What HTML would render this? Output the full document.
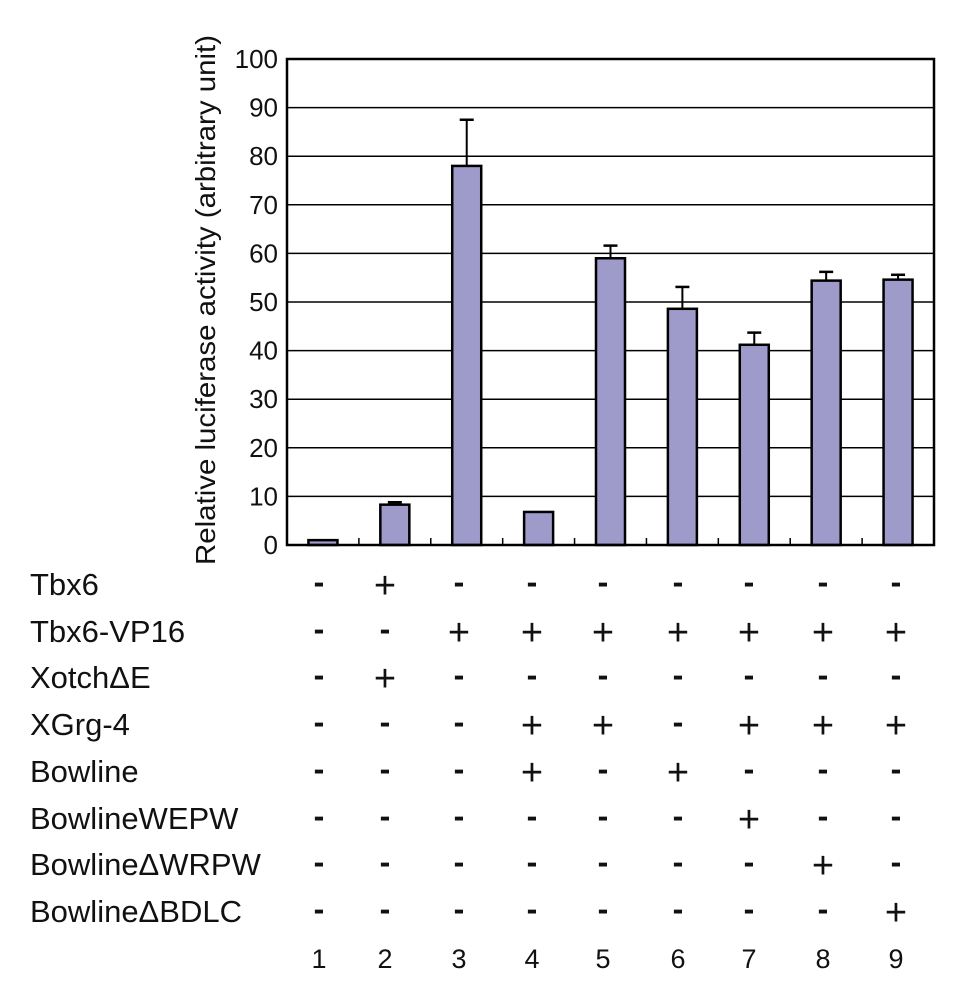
<!DOCTYPE html>
<html><head><meta charset="utf-8"><style>
html,body{margin:0;padding:0;background:#fff;}
svg{display:block;font-family:"Liberation Sans",Arial,sans-serif;}
</style></head><body>
<svg id="chart" width="958" height="1000" viewBox="0 0 958 1000" xmlns="http://www.w3.org/2000/svg"></svg>
<script>
const categories = ["1","2","3","4","5","6","7","8","9"];
const values = [1.0, 8.3, 78.0, 6.8, 59.0, 48.6, 41.2, 54.4, 54.6];
const errors = [0, 0.5, 9.5, 0, 2.6, 4.5, 2.5, 1.8, 1.0];
const yTicks = [0,10,20,30,40,50,60,70,80,90,100];
const rowLabels = ["Tbx6","Tbx6-VP16","Xotch\u0394E","XGrg-4","Bowline","BowlineWEPW","Bowline\u0394WRPW","Bowline\u0394BDLC"];
const rowSigns = [
 "-+-------",
 "--+++++++",
 "-+-------",
 "---++-+++",
 "---+-+---",
 "------+--",
 "-------+-",
 "--------+"
];
const NS="http://www.w3.org/2000/svg";
const svg=document.getElementById('chart');
function mk(t,a,p){const e=document.createElementNS(NS,t);for(const k in a)e.setAttribute(k,a[k]);(p||svg).appendChild(e);return e;}
const L=287,R=934,T=59,B=545,YMAX=100;
const y=v=>B-(v/YMAX)*(B-T);
const band=(R-L)/categories.length;
const xc=i=>L+band*(i+0.5);
yTicks.forEach(t=>{
 if(t>0&&t<YMAX){const g=mk('line',{x1:L,x2:R,y1:y(t),y2:y(t),stroke:'#000','stroke-width':1.5});
 
 }
 const tl=mk('text',{x:278,y:y(t)+9,'text-anchor':'end','font-size':26,fill:'#111'});
 tl.textContent=t;
 
 
});
for(let i=1;i<categories.length;i++){
 const tk=mk('line',{x1:L+band*i,x2:L+band*i,y1:B,y2:B-7,stroke:'#000','stroke-width':1.5});
 
 
}
const bw=29;
categories.forEach((c,i)=>{
 const v=values[i];
 if(errors[i]>0){
  const ex=xc(i);
  const el=mk('line',{x1:ex,x2:ex,y1:y(v),y2:y(v+errors[i]),stroke:'#000','stroke-width':2});
  
  
  const cp=mk('line',{x1:ex-7,x2:ex+7,y1:y(v+errors[i]),y2:y(v+errors[i]),stroke:'#000','stroke-width':2.5});
  
  
 }
 const r=mk('rect',{x:xc(i)-bw/2,y:y(v),width:bw,height:B-y(v),fill:'#9e9bcb',stroke:'#000','stroke-width':2.5});
 
 
});
const fr=mk('rect',{x:L,y:T,width:R-L,height:B-T,fill:'none',stroke:'#000','stroke-width':2.5});


const yt=mk('text',{x:0,y:0,transform:'translate(215,300) rotate(-90)','text-anchor':'middle','font-size':28,fill:'#111',textLength:530,lengthAdjust:'spacingAndGlyphs'});
yt.textContent='Relative luciferase activity (arbitrary unit)';


const colX=[319,385,459,532,603,678,749,823,896];
const rowY=[595,642,688,735,782,829,875,922];
rowLabels.forEach((lab,r)=>{
 const t=mk('text',{x:30,y:rowY[r],'font-size':31,fill:'#111'});
 t.textContent=lab;
 
 
 for(let i=0;i<9;i++){
  const s=rowSigns[r][i];
  if(s==='+'){
   const p=mk('text',{x:colX[i],y:rowY[r]+3,'text-anchor':'middle','font-size':38,fill:'#111'});
   p.textContent='+';
   
   
  } else {
   const m=mk('text',{x:colX[i],y:rowY[r]-2,'text-anchor':'middle','font-size':32,'font-weight':'bold',fill:'#111'});
   m.textContent='-';
   
   
  }
 }
});
categories.forEach((c,i)=>{
 const n=mk('text',{x:colX[i],y:968,'text-anchor':'middle','font-size':27,fill:'#111'});
 n.textContent=c;
 
 
});
</script>
</body></html>
